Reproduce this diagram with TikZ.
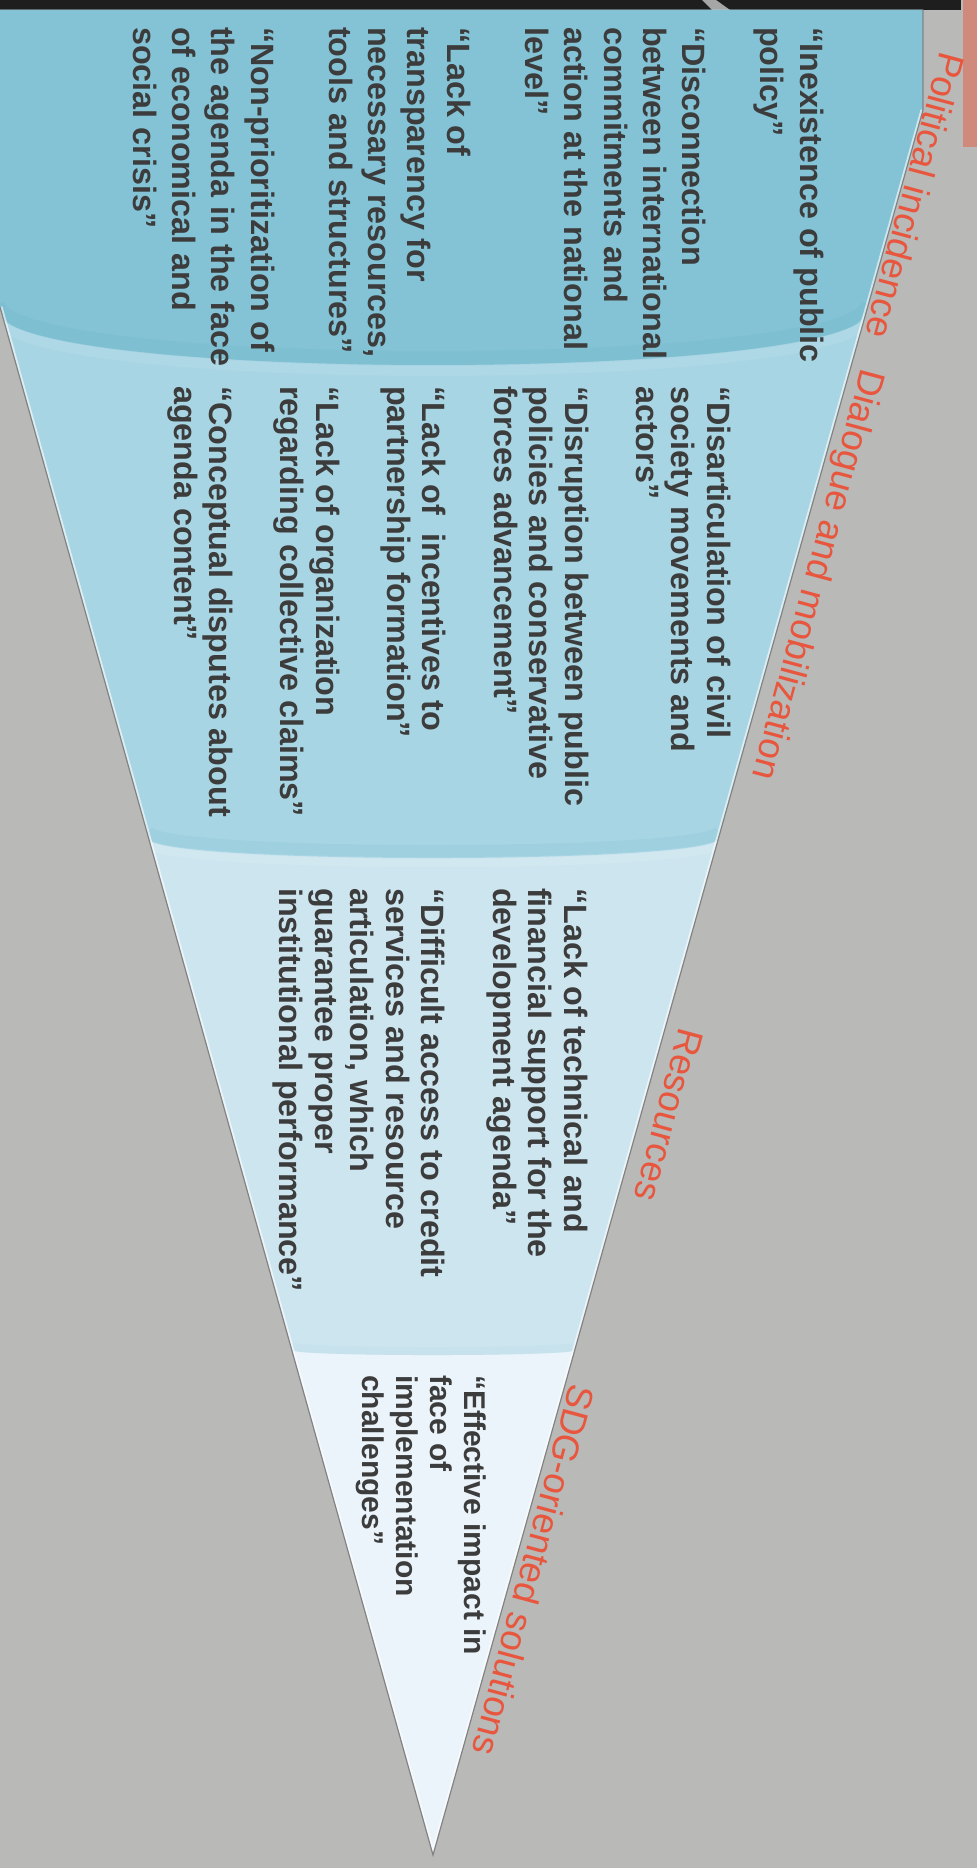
\documentclass[tikz,border=0pt]{standalone}
\usepackage{fontspec}
\usepackage{xcolor}
\newfontfamily\funnelfont{Liberation Sans}
\usetikzlibrary{positioning}

\definecolor{bggray}{RGB}{185,185,184}
\definecolor{topdark}{RGB}{30,30,30}
\definecolor{salmon}{RGB}{208,138,124}
\definecolor{bandone}{RGB}{132,195,214}
\definecolor{bandtwo}{RGB}{168,213,227}
\definecolor{bandthree}{RGB}{205,229,239}
\definecolor{bandfour}{RGB}{234,244,250}
\definecolor{edgegray}{RGB}{130,130,130}
\definecolor{txtgray}{RGB}{60,60,60}
\definecolor{lblred}{RGB}{232,86,62}

\begin{document}
\begin{tikzpicture}[x=1pt,y=-1pt,
    barrier/.style={rotate=-90, anchor=north west, inner sep=0pt, align=left, text=txtgray,
                    font=\funnelfont\bfseries\fontsize{32.3}{35.5}\selectfont},
    barrierA/.style={barrier, font=\funnelfont\bfseries\fontsize{32.3}{39.2}\selectfont},
    barrierD/.style={barrier, font=\funnelfont\bfseries\fontsize{30}{34}\selectfont},
    stage/.style={rotate=-105, anchor=base west, inner sep=0pt, text=lblred,
                  font=\funnelfont\fontsize{37}{40}\selectfont}
]
    \useasboundingbox (0,0) rectangle (977,1868);
    \fill[bggray] (0,0) rectangle (977,1868);
    \fill[topdark] (0,0) rectangle (961,10);
    \fill[gray!70] (702,0) -- (716,0) -- (730,10) -- (712,10) -- cycle;
    \fill[salmon] (963,0) rectangle (977,147);

    \coordinate (ftl) at (0,10);
    \coordinate (ftr) at (923,10);
    \coordinate (fr) at (923,110);
    \coordinate (apex) at (433,1855);
    \coordinate (fl) at (0,307);

    % funnel bands
    \begin{scope}
        \clip (ftl) -- (ftr) -- (fr) -- (apex) -- (fl) -- cycle;
        \fill[bandfour] (0,0) rectangle (977,1868);
        \fill[bandthree] (-10,0) -- (977,0) -- (977,1350) -- (575,1350)
            .. controls (575,1356.7) and (292,1356.7) .. (292,1350) -- (-10,1350) -- cycle;
        \fill[bandtwo] (-10,0) -- (977,0) -- (977,838) -- (719,838)
            .. controls (719,864.7) and (148,864.7) .. (148,838) -- (-10,838) -- cycle;
        \fill[bandone] (-10,0) -- (977,0) -- (977,310) -- (868,310)
            .. controls (868,383.3) and (-2,383.3) .. (-2,310) -- (-10,310) -- cycle;
        \draw[color={rgb,255:red,124;green,189;blue,208}, line width=14pt, opacity=.5]
            (868,303) .. controls (868,376.3) and (-2,376.3) .. (-2,303);
        \draw[color={rgb,255:red,178;green,219;blue,233}, line width=10pt, opacity=.6]
            (868,316) .. controls (868,389.3) and (-2,389.3) .. (-2,316);
        \draw[color={rgb,255:red,152;green,204;blue,221}, line width=12pt, opacity=.55]
            (719,831) .. controls (719,857.7) and (148,857.7) .. (148,831);
        \draw[color={rgb,255:red,214;green,235;blue,243}, line width=8pt, opacity=.6]
            (719,843) .. controls (719,869.7) and (148,869.7) .. (148,843);
        \draw[color={rgb,255:red,196;green,224;blue,234}, line width=8pt, opacity=.6]
            (575,1346) .. controls (575,1352.7) and (292,1352.7) .. (292,1346);
        \draw[white, opacity=.6, line width=5pt] (fr) -- (apex) -- (fl);
    \end{scope}
    \draw[edgegray, line width=1.2pt] (ftr) -- (fr) -- (apex) -- (fl);

    % barriers, first band
    \node[barrierA] (nopolicy) at (823.6,27) {“Inexistence of public\\policy”};
    \node[barrierA] (disconnect) at (706,27) {“Disconnection\\between international\\commitments and\\action at the national\\level”};
    \node[barrierA] (transparency) at (470.8,27) {“Lack of\\transparency for\\necessary resources,\\tools and structures”};
    \node[barrierA] (priority) at (274.8,27) {“Non-prioritization of\\the agenda in the face\\of economical and\\social crisis”};

    % second band
    \node[barrier] (disarticulation) at (730.6,386) {“Disarticulation of civil\\society movements and\\actors”};
    \node[barrier] (disruption) at (588.6,386) {“Disruption between public\\policies and conservative\\forces advancement”};
    \node[barrier] (incentives) at (446.6,386) {“Lack of~ incentives to\\partnership formation”};
    \node[barrier] (organization) at (340,386) {“Lack of organization\\regarding collective claims”};
    \node[barrier] (disputes) at (233.6,386) {“Conceptual disputes about\\agenda content”};

    % third band
    \node[barrier] (support) at (587.6,888) {“Lack of technical and\\financial support for the\\development agenda”};
    \node[barrier] (credit) at (445.6,888) {“Difficult access to credit\\services and resource\\articulation, which\\guarantee proper\\institutional performance”};

    % fourth band
    \node[barrierD] (impact) at (486,1375) {“Effective impact in\\face of\\implementation\\challenges”};

    % stage labels
    \node[stage] (political) at (941,50) {Political incidence};
    \node[stage] (dialogue) at (862,367) {Dialogue and mobilization};
    \node[stage] (resources) at (680,1026) {Resources};
    \node[stage] (sdg) at (571,1382) {SDG-oriented solutions};
\end{tikzpicture}
\end{document}
